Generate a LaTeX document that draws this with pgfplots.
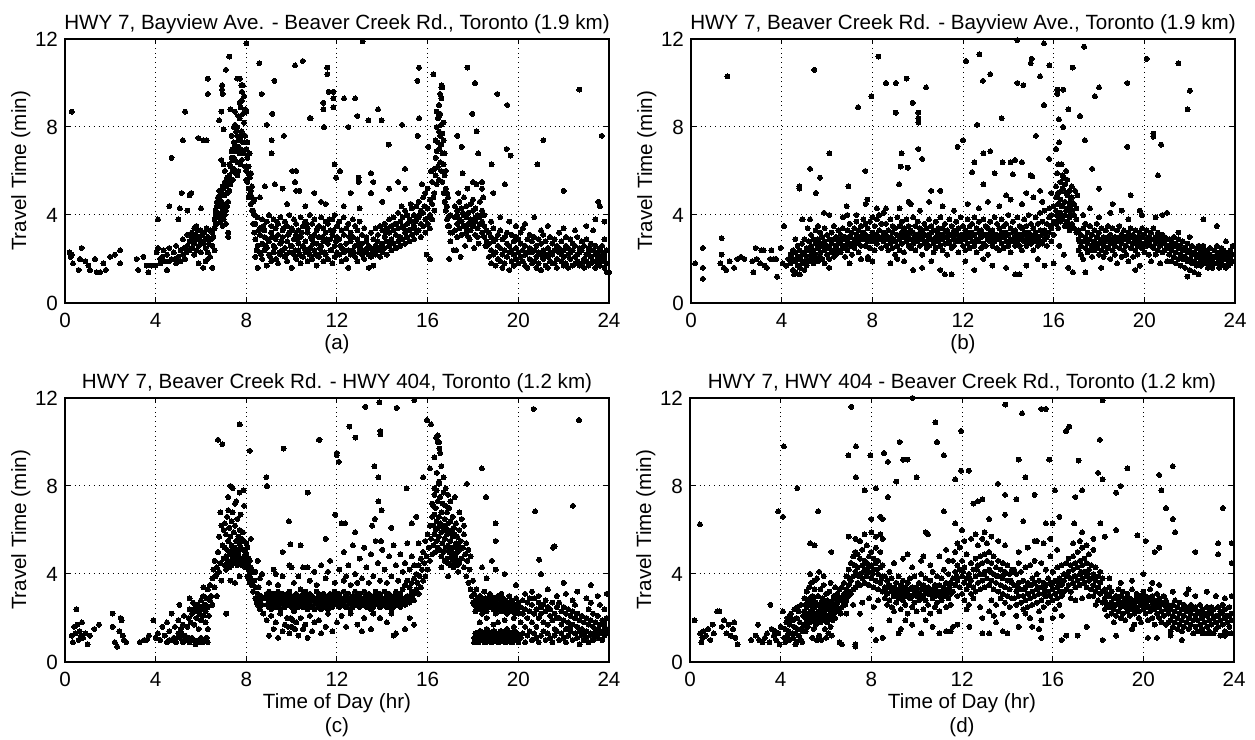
\documentclass[border=0pt]{standalone}
\usepackage{fontspec}
\setmainfont{Liberation Sans}
\usepackage{pgfplots}
\usepackage{pgfplotstable}
\pgfplotsset{compat=1.18}

% ---------- (a) HWY 7, Bayview Ave. - Beaver Creek Rd.
\pgfplotstableread[row sep=\\]{t a b c\\
5.6 3.0 2.5 3.2\\ 5.7 2.7 2.2 3.4\\ 5.8 2.9 2.4 3.5\\ 5.9 2.6 1.8 3.0\\ 6.0 2.8 3.3 2.3\\ 6.1 2.7 1.6 3.2\\
6.2 2.5 2.9 1.9\\ 6.3 2.3 3.0 2.0\\ 6.4 3.3 2.1 2.9\\ 6.5 3.2 2.6 1.6\\ 6.6 3.4 2.4 3.8\\ 6.65 4.2 3.6 4.0\\
6.7 4.6 3.6 4.4\\ 6.75 4.0 4.8 3.9\\ 6.8 4.8 3.9 5.1\\ 6.85 4.4 3.7 4.9\\ 6.9 5.0 4.1 4.6\\ 6.95 3.5 5.3 4.3\\
7.0 5.2 4.5 3.8\\ 7.05 4.9 4.0 5.5\\ 7.1 5.3 4.2 3.6\\ 7.15 5.0 4.4 5.7\\ 7.2 4.6 5.5 3.2\\ 7.25 5.8 5.1 6.3\\
7.3 6.2 5.4 8.8\\ 7.35 6.6 5.6 7.6\\ 7.4 7.0 6.0 6.5\\ 7.45 7.3 6.1 8.0\\ 7.5 6.5 8.1 7.2\\ 7.55 6.9 7.8 5.9\\
7.6 7.6 8.0 6.4\\ 7.65 7.1 6.0 8.5\\ 7.7 8.4 6.8 7.5\\ 7.75 8.9 7.0 6.3\\ 7.8 9.2 7.8 6.5\\ 7.85 8.6 7.3 6.9\\
7.9 8.2 6.8 9.4\\ 7.95 7.6 6.2 8.8\\ 8.0 7.0 6.0 8.7\\ 8.05 6.6 5.5 7.3\\ 8.1 5.2 6.2 4.8\\ 8.15 4.9 5.7 6.8\\
8.2 5.1 4.5 5.9\\ 8.25 4.8 5.3 4.2\\ 8.3 4.6 4.2 3.6\\ 8.35 4.0 4.7 3.2\\
8.4 2.1 2.9 3.6\\ 8.5 1.6 2.6 3.9\\ 8.6 2.3 3.1 3.4\\ 8.7 2.0 2.7 3.8\\ 8.8 2.4 3.0 3.3\\ 8.9 1.7 2.5 3.7\\
9.0 2.2 2.8 4.0\\ 9.1 1.9 3.2 3.5\\ 9.2 2.3 2.6 3.8\\ 9.3 2.0 2.9 3.4\\ 9.4 1.8 3.1 3.6\\ 9.5 2.2 2.7 3.9\\
9.6 2.4 3.0 3.3\\ 9.7 2.1 2.5 3.7\\ 9.8 1.9 2.8 3.5\\ 9.9 2.3 3.2 4.0\\ 10.0 1.6 2.6 3.4\\ 10.1 2.2 2.9 3.8\\
10.2 2.0 3.1 3.6\\ 10.3 2.4 2.7 3.3\\ 10.4 1.8 3.0 3.9\\ 10.5 2.1 2.6 3.5\\ 10.6 2.3 2.8 3.7\\ 10.7 1.9 3.2 3.4\\
10.8 2.2 2.5 4.0\\ 10.9 2.0 2.9 3.6\\ 11.0 2.4 3.1 3.8\\ 11.1 1.7 2.7 3.3\\ 11.2 2.1 3.0 3.5\\ 11.3 2.3 2.6 3.9\\
11.4 1.9 2.8 3.4\\ 11.5 2.2 3.2 3.7\\ 11.6 2.0 2.7 3.6\\ 11.7 2.4 2.9 3.3\\ 11.8 1.8 3.1 3.8\\ 11.9 2.1 2.6 4.0\\
12.0 2.3 3.0 3.5\\ 12.1 2.2 2.9 3.7\\ 12.2 1.9 2.5 3.3\\ 12.3 2.3 3.1 3.9\\ 12.4 2.0 2.7 3.4\\ 12.5 1.6 2.4 3.6\\
12.6 2.2 2.8 3.2\\ 12.7 2.4 3.0 3.8\\ 12.8 2.1 2.6 3.5\\ 12.9 1.9 2.9 3.3\\ 13.0 2.3 2.5 3.7\\ 13.1 2.2 2.7 3.1\\
13.2 2.0 2.4 3.4\\ 13.3 2.3 2.8 3.0\\ 13.4 1.6 2.2 2.6\\ 13.5 2.1 2.5 3.2\\ 13.6 1.7 2.3 2.9\\ 13.7 2.2 2.6 3.4\\
13.8 2.4 2.8 3.1\\ 13.9 2.1 2.5 3.5\\ 14.0 2.3 2.7 3.3\\ 14.1 2.5 3.0 3.6\\ 14.2 2.2 2.8 3.4\\ 14.3 2.6 3.2 3.8\\
14.4 2.4 2.9 3.5\\ 14.5 2.7 3.3 3.9\\ 14.6 2.5 3.1 3.6\\ 14.7 2.8 3.4 4.1\\ 14.8 2.6 3.0 3.7\\ 14.9 2.9 3.5 3.9\\
15.0 2.7 3.2 4.2\\ 15.1 3.0 3.6 4.0\\ 15.2 2.8 3.3 3.8\\ 15.3 3.1 3.7 4.3\\ 15.4 2.9 3.5 4.0\\ 15.5 3.2 3.8 4.4\\
15.6 3.3 3.9 4.6\\ 15.7 3.0 3.6 4.2\\ 15.8 3.5 4.1 4.8\\ 15.9 3.2 3.8 5.0\\ 16.0 3.6 4.3 5.2\\ 16.1 3.4 4.0 4.7\\
16.2 3.8 4.5 5.5\\ 16.3 4.2 5.0 6.1\\ 16.35 5.8 6.6 7.4\\ 16.4 5.4 6.9 8.0\\ 16.45 6.2 7.3 8.4\\ 16.5 5.6 7.0 7.8\\
16.55 6.4 7.6 8.6\\ 16.6 6.0 7.2 8.1\\ 16.65 5.5 6.8 7.7\\ 16.7 5.0 6.3 7.4\\ 16.75 4.6 5.8 6.8\\ 16.8 4.2 5.2 6.0\\
16.85 4.4 5.0 3.8\\ 16.9 3.9 4.8 3.5\\ 17.0 2.8 4.0 3.2\\
17.2 3.3 3.9 4.4\\ 17.3 3.6 4.2 3.0\\ 17.4 3.4 3.8 4.6\\ 17.5 3.1 3.7 4.3\\ 17.6 3.5 4.0 4.8\\ 17.7 3.2 3.9 4.4\\
17.8 3.6 4.1 3.0\\ 17.9 3.3 3.8 4.5\\ 18.0 3.5 4.2 4.7\\ 18.1 3.1 3.7 4.3\\ 18.2 3.4 4.0 3.0\\ 18.3 3.6 3.9 4.6\\
18.4 3.2 3.7 4.2\\ 18.5 3.0 3.5 4.0\\ 18.6 2.8 3.3 2.6\\
18.7 2.1 2.7 3.2\\ 18.8 1.8 2.4 3.0\\ 18.9 2.2 2.8 3.4\\ 19.0 1.7 2.3 2.9\\ 19.1 2.0 2.6 3.1\\ 19.2 1.9 2.5 3.3\\
19.3 2.2 2.9 1.6\\ 19.4 1.8 2.4 3.0\\ 19.5 2.1 2.7 3.2\\ 19.6 2.3 2.6 1.5\\ 19.7 1.9 2.4 3.1\\ 19.8 2.2 2.8 1.7\\
19.9 2.0 2.5 3.0\\ 20.0 1.8 2.3 2.9\\ 20.1 2.1 2.7 3.2\\ 20.2 1.9 2.4 3.4\\ 20.3 2.2 2.6 1.7\\ 20.4 1.6 2.3 2.9\\
20.5 2.0 2.5 3.1\\ 20.6 2.3 2.8 1.8\\ 20.7 1.9 2.4 3.0\\ 20.8 2.1 2.6 1.6\\ 20.9 1.8 2.3 2.9\\ 21.0 2.2 2.7 1.5\\
21.1 2.0 2.4 3.1\\ 21.2 1.7 2.2 2.8\\ 21.3 2.1 2.5 1.6\\ 21.4 1.9 2.3 3.0\\ 21.5 2.2 2.7 1.8\\ 21.6 1.8 2.4 2.9\\
21.7 2.0 2.6 1.6\\ 21.8 2.3 2.5 3.2\\ 21.9 1.9 2.2 2.8\\ 22.0 2.1 2.4 1.7\\ 22.1 1.8 2.6 3.0\\ 22.2 2.2 2.5 1.6\\
22.3 2.0 2.3 2.9\\ 22.4 1.7 2.4 2.7\\ 22.5 2.1 2.6 1.8\\ 22.6 1.9 2.2 3.0\\ 22.7 2.3 2.5 1.7\\ 22.8 1.8 2.4 2.8\\
22.9 2.0 2.6 1.6\\ 23.0 2.2 1.9 2.9\\ 23.1 1.7 2.3 2.5\\ 23.2 2.1 2.7 1.8\\ 23.3 1.9 2.4 3.3\\ 23.4 2.2 1.6 2.6\\
23.5 2.0 2.3 1.8\\ 23.6 1.7 2.5 2.1\\ 23.7 2.3 1.9 2.6\\ 23.8 2.0 1.6 2.2\\ 23.9 1.8 2.4 1.4\\
}\tabAband
\pgfplotstableread[row sep=\\]{x y\\
0.2 2.3\\ 0.25 2.1\\ 0.3 2.2\\ 0.35 1.8\\ 0.6 1.5\\ 0.66 2.0\\ 0.73 2.5\\ 0.9 1.9\\ 1.03 1.7\\ 1.1 1.5\\
1.32 2.0\\ 1.4 1.4\\ 1.55 1.4\\ 1.69 1.8\\ 1.8 1.5\\ 1.99 2.1\\ 2.2 2.2\\ 2.43 2.4\\ 2.43 1.8\\ 3.16 2.0\\
3.23 1.5\\ 3.46 2.1\\ 3.6 1.7\\ 3.68 1.4\\ 3.82 1.7\\ 4.04 2.3\\ 4.1 2.5\\ 0.3 8.7\\
4.1 3.8\\ 4.2 2.0\\ 4.2 1.8\\ 4.3 2.1\\ 4.4 1.9\\ 4.5 2.2\\ 4.5 1.5\\ 4.6 1.9\\ 4.6 2.5\\ 4.6 4.4\\
4.7 2.0\\ 4.7 6.6\\ 4.8 2.3\\ 4.9 2.6\\ 4.9 1.8\\ 5.0 2.1\\ 5.0 3.8\\ 5.1 2.4\\ 5.1 1.9\\ 5.2 2.2\\
5.2 2.9\\ 5.2 7.4\\ 5.3 8.7\\ 5.3 2.0\\ 5.4 2.6\\ 5.4 3.1\\ 5.4 4.2\\ 5.5 2.4\\ 5.5 4.9\\ 5.5 2.8\\
5.15 5.0\\ 5.07 4.3\\ 5.57 5.0\\ 4.0 1.7\\ 4.35 2.4\\ 4.85 2.0\\ 5.25 2.5\\ 5.35 2.3\\
5.65 2.8\\ 5.75 3.1\\ 5.85 3.3\\ 5.95 3.0\\ 6.05 3.1\\ 6.15 3.2\\ 6.25 3.4\\ 6.35 2.7\\ 6.45 2.9\\ 6.55 3.0\\
6.0 4.3\\ 6.2 1.9\\ 6.1 7.4\\ 6.3 9.5\\ 6.3 10.2\\ 6.25 7.4\\ 5.88 7.5\\ 6.9 4.9\\ 6.9 6.5\\ 6.8 8.3\\
7.0 7.9\\ 7.1 10.6\\ 6.93 9.9\\ 6.93 9.7\\ 6.95 9.5\\ 7.25 11.2\\ 6.9 8.7\\ 7.05 6.0\\ 7.0 6.3\\ 7.2 3.0\\
7.5 8.7\\ 7.6 10.2\\ 7.72 10.2\\ 7.78 9.9\\ 7.8 9.6\\ 8.0 11.8\\ 7.7 9.1\\ 7.85 9.9\\ 7.55 7.0\\ 7.45 6.6\\
7.65 7.4\\ 7.35 6.9\\ 7.75 7.6\\ 7.9 7.3\\ 8.0 5.6\\ 7.4 5.6\\ 7.6 5.8\\ 8.1 5.9\\ 8.2 4.9\\
8.45 2.4\\ 8.55 3.3\\ 8.65 2.2\\ 8.75 3.5\\ 8.85 2.6\\ 8.95 2.9\\ 9.05 2.1\\ 9.15 3.0\\ 9.25 2.5\\ 9.35 3.7\\
9.45 2.3\\ 9.55 2.8\\ 9.65 3.4\\ 9.75 2.2\\ 9.85 3.1\\ 9.95 2.6\\ 10.05 3.3\\ 10.15 2.4\\ 10.25 2.9\\ 10.35 2.2\\
10.45 3.2\\ 10.55 2.5\\ 10.65 3.6\\ 10.75 2.3\\ 10.85 3.0\\ 10.95 2.7\\ 11.05 2.2\\ 11.15 3.4\\ 11.25 2.5\\ 11.35 3.0\\
11.45 2.3\\ 11.55 2.9\\ 11.65 3.8\\ 11.75 2.4\\ 11.85 3.3\\ 11.95 2.8\\ 12.15 2.6\\ 12.35 2.4\\ 12.55 3.0\\ 12.75 2.3\\
12.95 2.7\\ 13.15 2.3\\ 13.35 2.5\\ 13.55 2.3\\ 13.75 2.4\\ 13.95 2.6\\ 14.15 3.2\\ 14.35 2.7\\ 14.55 3.6\\ 14.75 3.0\\
14.95 3.4\\ 15.15 3.3\\ 15.35 3.4\\ 15.45 3.7\\ 15.25 4.5\\ 14.85 4.4\\
15.65 4.0\\ 15.85 4.4\\ 16.05 3.9\\ 16.25 4.8\\ 15.75 5.4\\ 16.15 6.0\\ 15.95 2.2\\ 16.1 2.0\\ 16.5 9.0\\ 16.55 9.5\\
16.6 9.3\\ 16.65 9.8\\ 16.7 8.2\\ 16.6 9.8\\ 16.62 9.9\\ 16.95 2.0\\ 17.15 2.4\\ 17.1 3.2\\ 16.95 3.5\\ 16.4 8.7\\ 16.5 8.5\\
17.25 2.4\\ 17.45 2.1\\ 17.65 2.6\\ 17.85 2.9\\ 18.05 2.5\\ 18.25 2.7\\ 17.35 5.0\\ 17.75 5.2\\ 18.15 5.4\\ 17.55 4.1\\
17.95 3.6\\ 18.35 4.0\\ 18.45 4.8\\ 18.55 2.6\\ 17.3 4.0\\ 17.7 3.4\\ 18.1 3.9\\
19.6 3.7\\ 19.9 3.5\\ 20.7 3.9\\ 21.3 3.5\\ 22.0 3.4\\ 23.4 3.8\\ 23.8 2.9\\ 18.8 3.7\\ 19.2 3.9\\ 20.3 3.6\\
21.0 3.3\\ 22.5 3.3\\ 23.0 3.5\\
8.57 10.9\\ 9.24 10.1\\ 8.68 9.5\\ 9.15 8.6\\ 8.9 8.1\\ 10.15 10.8\\ 10.49 11.0\\ 10.8 8.4\\ 9.66 7.6\\ 9.12 7.4\\
9.12 6.8\\ 10.03 6.0\\ 10.2 6.0\\ 8.6 4.8\\ 8.82 5.3\\ 9.26 5.4\\ 9.6 5.2\\ 10.15 5.5\\ 10.2 5.1\\ 10.34 5.1\\
13.13 11.9\\ 11.57 10.7\\ 11.57 10.4\\ 11.63 9.6\\ 11.84 9.6\\ 11.84 9.3\\ 11.84 8.9\\ 11.4 9.1\\ 11.4 8.8\\ 11.43 8.0\\
12.31 9.3\\ 12.8 9.3\\ 12.9 8.5\\ 12.5 8.0\\ 13.38 8.3\\ 13.97 8.3\\ 13.81 8.8\\ 10.84 8.4\\ 14.87 8.1\\ 14.28 7.2\\
15.62 10.7\\ 15.55 10.1\\ 15.62 8.4\\ 15.56 7.6\\ 16.25 10.4\\ 16.03 7.1\\ 17.75 10.7\\ 18.09 10.0\\ 17.97 8.6\\ 18.16 7.8\\
17.31 7.6\\ 17.5 7.1\\ 18.23 6.8\\ 19.07 9.5\\ 19.51 9.0\\ 19.48 7.0\\ 19.66 6.7\\ 18.82 6.3\\ 18.9 5.0\\ 19.41 5.4\\
21.1 7.4\\ 20.84 6.3\\ 22.0 5.1\\ 22.69 9.7\\ 23.68 7.6\\ 23.53 4.6\\ 15.0 6.1\\ 13.5 5.9\\ 12.95 5.5\\ 12.95 5.7\\
11.96 5.7\\ 12.13 6.0\\ 11.9 6.3\\ 11.0 5.0\\ 11.3 4.6\\ 12.6 5.0\\ 13.5 5.0\\ 13.6 5.5\\ 14.3 5.2\\ 14.7 5.5\\
15.0 5.2\\ 17.54 5.9\\ 18.0 5.5\\ 18.4 5.5\\ 18.4 5.2\\ 11.5 4.5\\ 12.3 4.4\\ 13.0 4.3\\ 14.0 4.6\\ 10.6 4.4\\
9.8 4.5\\ 23.6 4.4\\ 23.8 3.7\\ 24.0 1.4\\
}\tabAsc

% ---------- (b) HWY 7, Beaver Creek Rd. - Bayview Ave.
\pgfplotstableread[row sep=\\]{t a b c\\
4.5 1.5 2.0 2.4\\ 4.6 1.9 2.3 1.4\\ 4.7 2.1 1.7 2.6\\ 4.8 1.6 2.0 2.4\\ 4.9 2.2 1.8 2.7\\ 5.0 1.9 2.3 1.5\\
5.1 2.1 2.5 1.7\\ 5.2 2.4 1.9 2.8\\ 5.3 2.0 2.6 2.2\\ 5.4 1.8 2.4 2.9\\ 5.5 2.2 2.7 2.0\\ 5.6 2.5 1.9 2.9\\
5.7 2.3 2.7 2.1\\ 5.8 2.6 2.0 3.0\\ 5.9 2.4 2.8 1.8\\ 6.0 2.2 2.6 3.1\\ 6.1 2.5 2.0 2.9\\ 6.2 2.7 2.3 3.2\\
6.3 2.4 2.9 2.1\\ 6.4 2.6 3.0 2.2\\ 6.5 2.8 2.4 3.3\\ 6.6 2.7 3.1 2.3\\ 6.7 2.9 2.5 3.4\\ 6.8 2.6 3.0 2.1\\
6.9 2.8 3.3 2.4\\ 7.0 3.0 2.6 3.6\\ 7.1 2.7 3.2 2.2\\ 7.2 2.9 3.4 2.5\\ 7.3 3.1 2.7 3.7\\ 7.4 2.8 3.3 2.3\\
7.5 3.0 3.5 2.6\\ 7.6 2.9 3.2 3.8\\ 7.7 3.1 2.6 3.6\\ 7.8 2.8 3.4 2.1\\ 7.9 3.0 3.7 2.5\\ 8.0 3.2 2.8 3.9\\
8.1 2.9 3.5 2.4\\ 8.2 3.1 3.8 2.7\\ 8.3 3.3 2.9 4.0\\ 8.4 3.0 3.6 2.5\\ 8.5 3.2 2.8 4.1\\
8.6 2.6 3.1 3.6\\ 8.7 2.9 3.3 2.4\\ 8.8 3.0 2.7 3.8\\ 8.9 3.2 2.5 3.5\\ 9.0 2.8 3.4 2.2\\ 9.1 3.1 2.6 3.9\\
9.2 2.9 3.5 2.4\\ 9.3 3.2 2.7 3.7\\ 9.4 3.0 3.4 2.3\\ 9.5 2.8 3.2 3.8\\ 9.6 3.1 2.6 3.5\\ 9.7 2.9 3.3 2.5\\
9.8 3.2 2.7 3.9\\ 9.9 3.0 3.5 2.4\\ 10.0 2.8 3.1 3.7\\ 10.1 3.2 2.6 3.4\\ 10.2 2.9 3.3 2.2\\ 10.3 3.1 2.7 3.6\\
10.4 2.8 3.4 2.5\\ 10.5 3.0 2.6 3.8\\ 10.6 3.2 2.9 3.5\\ 10.7 2.7 3.3 2.3\\ 10.8 3.0 2.5 3.7\\ 10.9 2.8 3.2 3.4\\
11.0 3.1 2.6 3.9\\ 11.1 2.9 3.4 2.4\\ 11.2 3.2 2.7 3.6\\ 11.3 3.0 3.3 2.2\\ 11.4 2.7 3.1 3.8\\ 11.5 3.1 2.5 3.5\\
11.6 2.9 3.3 2.6\\ 11.7 3.2 2.8 3.7\\ 11.8 3.0 3.4 2.3\\ 11.9 2.8 3.1 3.9\\ 12.0 3.1 2.6 3.5\\ 12.1 2.9 3.3 2.4\\
12.2 3.2 2.7 3.8\\ 12.3 3.0 3.5 2.5\\ 12.4 2.8 3.2 3.6\\ 12.5 3.1 2.6 3.9\\ 12.6 2.9 3.4 2.3\\ 12.7 3.2 2.8 3.7\\
12.8 3.0 3.3 2.5\\ 12.9 2.7 3.1 3.8\\ 13.0 3.1 2.6 3.5\\ 13.1 2.9 3.4 2.2\\ 13.2 3.2 2.8 3.7\\ 13.3 3.0 3.3 2.6\\
13.4 2.8 3.1 3.9\\ 13.5 3.1 2.5 3.6\\ 13.6 2.9 3.4 2.4\\ 13.7 3.2 2.7 3.8\\ 13.8 3.0 3.5 2.5\\ 13.9 2.8 3.2 3.6\\
14.0 3.1 2.6 4.0\\ 14.1 2.9 3.4 2.3\\ 14.2 3.2 2.8 3.7\\ 14.3 3.0 3.3 2.6\\ 14.4 2.8 3.1 3.9\\ 14.5 3.1 2.6 3.5\\
14.6 2.9 3.4 2.4\\ 14.7 3.2 2.8 3.8\\ 14.8 3.0 3.5 2.6\\ 14.9 2.8 3.2 4.0\\ 15.0 3.1 2.7 3.6\\ 15.1 2.9 3.4 2.4\\
15.2 3.2 2.8 3.9\\ 15.3 3.0 3.6 2.6\\ 15.4 2.8 3.3 4.1\\ 15.5 3.1 2.7 3.7\\ 15.6 3.3 2.9 4.2\\ 15.7 3.0 3.6 2.6\\
15.8 3.2 3.9 4.3\\ 15.9 3.4 2.8 4.0\\ 16.0 3.1 3.7 4.4\\
16.1 3.6 4.2 4.8\\ 16.2 3.9 4.5 5.0\\ 16.3 4.1 4.7 5.5\\ 16.4 3.8 4.4 5.2\\ 16.5 4.0 4.6 5.4\\ 16.6 3.7 4.3 4.9\\
16.7 3.9 4.5 5.1\\ 16.8 3.6 4.2 4.8\\ 16.9 3.4 4.0 4.5\\ 17.0 3.2 3.8 4.3\\ 16.15 4.0 4.9 3.7\\ 16.35 4.4 5.1 3.9\\
16.55 4.2 5.0 3.6\\ 16.75 4.3 4.7 3.5\\
17.1 2.9 2.4 3.3\\ 17.2 2.6 3.1 2.2\\ 17.3 2.8 3.4 2.0\\ 17.4 3.0 2.5 3.6\\ 17.5 2.7 3.2 2.3\\ 17.6 2.9 2.4 3.5\\
17.7 2.6 3.1 2.1\\ 17.8 2.8 3.3 2.4\\ 17.9 3.0 2.5 3.6\\ 18.0 2.7 3.2 2.2\\ 18.1 2.9 2.4 3.4\\ 18.2 2.6 3.0 2.1\\
18.3 2.8 3.3 2.3\\ 18.4 3.0 2.5 3.5\\ 18.5 2.7 3.1 2.0\\ 18.6 2.9 2.4 3.4\\ 18.7 2.6 3.0 2.2\\ 18.8 2.8 3.3 1.8\\
18.9 3.0 2.5 3.5\\ 19.0 2.7 3.1 2.1\\ 19.1 2.9 2.4 3.3\\ 19.2 2.6 3.0 2.2\\ 19.3 2.8 3.2 1.9\\ 19.4 3.0 2.5 3.4\\
19.5 2.7 3.1 2.1\\ 19.6 2.9 2.4 3.3\\ 19.7 2.6 3.0 2.2\\ 19.8 2.8 3.2 1.7\\ 19.9 3.0 2.5 3.4\\ 20.0 2.7 3.1 2.3\\
20.1 2.9 2.6 3.3\\ 20.2 2.8 3.0 2.2\\ 20.3 2.6 3.2 1.9\\ 20.4 2.9 2.5 3.4\\ 20.5 2.7 3.0 2.2\\ 20.6 2.8 2.4 3.2\\
20.7 2.6 3.0 1.8\\ 20.8 2.8 2.3 3.1\\ 20.9 2.7 2.4 3.0\\ 21.0 2.5 2.9 1.9\\
21.1 2.6 2.2 2.9\\ 21.2 2.4 2.8 1.9\\ 21.3 2.6 2.1 3.0\\ 21.4 2.3 2.7 1.8\\ 21.5 2.5 2.0 2.9\\ 21.6 2.2 2.6 1.7\\
21.7 2.4 2.0 2.8\\ 21.8 2.1 2.5 1.6\\ 21.9 2.3 1.9 2.7\\ 22.0 2.0 2.4 1.5\\ 22.1 2.2 1.8 2.6\\ 22.2 1.9 2.3 1.4\\
22.3 2.1 1.7 2.5\\ 22.4 1.8 2.2 2.6\\ 22.5 2.0 1.7 2.4\\ 22.6 2.2 1.9 2.6\\ 22.7 1.8 2.1 2.4\\ 22.8 2.0 1.6 2.3\\
22.9 2.2 1.8 2.5\\ 23.0 1.9 2.1 1.6\\ 23.1 2.1 2.4 1.8\\ 23.2 1.8 2.2 2.6\\ 23.3 2.0 1.6 2.3\\ 23.4 2.2 1.8 2.5\\
23.5 1.7 2.0 2.4\\ 23.6 2.1 1.6 2.3\\ 23.7 1.9 2.2 1.7\\ 23.8 2.1 2.4 1.8\\ 23.9 1.9 2.2 2.6\\
}\tabBband
\pgfplotstableread[row sep=\\]{x y\\
0.18 1.8\\ 0.52 2.5\\ 0.52 1.6\\ 0.52 1.1\\ 1.35 2.95\\ 1.35 2.2\\ 1.3 1.8\\ 1.45 1.6\\ 1.55 1.5\\ 1.7 1.9\\
1.9 1.6\\ 2.05 2.0\\ 2.2 2.1\\ 2.35 2.0\\ 2.7 1.9\\ 2.75 1.4\\ 2.85 2.5\\ 2.9 2.0\\ 3.05 1.8\\ 3.1 2.4\\
3.2 2.4\\ 3.25 1.7\\ 3.35 1.6\\ 3.5 2.0\\ 3.55 2.4\\ 3.65 2.0\\ 3.75 2.0\\ 3.8 1.2\\ 3.95 2.5\\ 4.05 1.8\\
4.1 3.5\\ 4.2 1.7\\ 4.3 2.0\\ 4.4 1.8\\ 4.4 2.2\\ 4.8 1.3\\ 5.0 2.9\\ 5.3 3.1\\ 5.5 3.3\\ 5.7 3.2\\
5.9 3.4\\ 6.1 1.6\\ 6.3 3.5\\ 5.25 3.8\\ 4.9 3.8\\ 5.6 3.5\\ 6.1 4.0\\ 4.6 2.9\\ 5.15 3.4\\ 4.55 1.3\\
7.0 1.8\\ 7.5 2.0\\ 7.8 2.0\\ 8.0 1.9\\ 6.9 4.0\\ 7.3 4.0\\ 7.7 4.5\\ 8.2 4.3\\ 8.6 4.3\\ 6.7 3.9\\
6.65 2.9\\ 6.95 3.0\\ 7.25 2.9\\ 7.55 3.1\\ 7.85 3.0\\ 8.15 3.1\\ 8.45 3.0\\
8.65 3.0\\ 8.95 2.9\\ 9.25 3.1\\ 9.55 3.0\\ 9.85 2.8\\ 10.15 3.0\\ 10.45 3.1\\ 10.75 2.9\\ 11.05 3.0\\ 11.35 2.8\\
11.65 3.1\\ 11.95 2.9\\ 12.25 3.0\\ 12.55 2.8\\ 12.85 3.1\\ 13.15 3.0\\ 13.45 2.9\\ 13.75 3.1\\ 14.05 2.8\\ 14.35 3.0\\
14.65 3.1\\ 14.95 2.9\\ 15.25 3.0\\ 15.55 3.2\\ 15.85 3.5\\
8.8 1.8\\ 9.1 2.0\\ 9.4 1.9\\ 9.8 1.5\\ 10.2 1.6\\ 10.6 1.9\\ 11.0 1.5\\ 11.2 1.3\\ 11.5 1.3\\ 12.1 1.9\\
12.5 1.5\\ 12.9 2.0\\ 13.3 1.7\\ 13.9 1.6\\ 14.3 1.3\\ 14.5 1.3\\ 14.8 1.7\\ 15.3 2.0\\ 15.6 1.7\\ 16.0 1.8\\
9.2 4.3\\ 9.7 4.5\\ 10.1 4.2\\ 10.5 4.6\\ 11.1 4.4\\ 11.6 4.2\\ 12.2 4.5\\ 12.7 4.3\\ 13.1 4.6\\ 13.6 4.4\\
14.1 4.7\\ 14.6 4.5\\ 15.1 4.8\\ 15.5 4.6\\ 13.9 4.9\\ 14.8 5.0\\ 15.4 5.1\\ 15.9 5.0\\
16.1 5.3\\ 16.2 3.4\\ 16.3 3.7\\ 16.4 5.8\\ 16.5 3.5\\ 16.6 5.6\\ 16.7 3.3\\ 16.8 5.3\\ 16.25 2.6\\ 16.45 2.2\\
16.65 1.6\\ 16.35 6.3\\ 16.55 6.0\\ 16.15 5.9\\ 16.75 4.0\\ 16.95 5.1\\ 17.05 4.9\\ 16.85 1.4\\ 16.45 5.7\\ 16.2 6.3\\
17.15 2.8\\ 17.45 2.9\\ 17.75 2.7\\ 18.05 2.8\\ 18.35 2.9\\ 18.65 2.7\\ 18.95 2.8\\ 19.25 2.9\\ 19.55 2.8\\ 19.85 2.7\\
20.15 2.8\\ 20.45 2.9\\ 20.75 2.7\\ 17.3 4.0\\ 17.6 4.3\\ 18.0 3.9\\ 18.5 4.1\\ 19.0 4.2\\ 19.3 3.8\\ 19.9 4.0\\
20.5 3.9\\ 20.8 4.0\\ 17.4 1.4\\ 18.1 1.6\\ 19.6 1.5\\ 21.5 3.2\\ 22.0 3.0\\ 23.2 3.5\\ 23.6 2.8\\ 22.4 1.3\\ 21.9 1.2\\
1.6 10.3\\ 5.44 10.6\\ 8.27 11.2\\ 8.6 10.0\\ 9.04 10.0\\ 9.51 10.2\\ 10.37 9.8\\ 9.78 9.1\\ 10.03 8.65\\ 10.03 8.4\\
10.03 8.2\\ 7.96 9.4\\ 9.03 8.65\\ 7.37 8.9\\ 9.29 6.8\\ 9.25 6.2\\ 9.56 6.15\\ 10.03 7.0\\ 10.2 6.55\\ 6.1 6.8\\
5.25 6.1\\ 5.69 5.7\\ 5.51 5.0\\ 4.78 5.3\\ 4.78 5.2\\ 6.94 5.3\\ 7.69 6.0\\ 7.78 4.7\\ 9.18 5.4\\ 9.6 4.6\\
10.6 5.1\\ 5.87 4.1\\ 6.87 4.4\\ 4.93 3.8\\
14.4 11.95\\ 15.57 11.8\\ 17.34 11.65\\ 12.13 11.0\\ 12.72 11.3\\ 15.03 11.1\\ 14.99 10.9\\ 15.81 10.8\\ 16.84 10.7\\
20.1 11.1\\ 21.5 10.9\\ 13.2 10.4\\ 12.88 10.1\\ 14.4 10.0\\ 14.66 9.9\\ 15.4 10.3\\ 15.57 9.0\\ 16.16 9.7\\ 16.42 9.7\\
16.16 9.5\\ 18.0 9.8\\ 17.82 9.4\\ 19.25 10.0\\ 22.01 9.65\\ 21.91 8.8\\ 16.65 8.8\\ 17.16 8.5\\ 16.23 8.35\\ 16.42 8.0\\
13.71 8.4\\ 12.63 8.1\\ 15.22 7.6\\ 20.4 7.7\\ 20.4 7.56\\ 20.74 7.2\\ 19.25 7.1\\ 17.38 7.4\\ 16.24 7.3\\ 16.1 7.0\\
11.76 7.1\\ 12.0 7.4\\ 12.9 6.8\\ 13.2 6.9\\ 13.75 6.4\\ 14.1 6.4\\ 14.3 6.5\\ 14.6 6.4\\ 15.8 6.55\\ 12.5 6.4\\
14.98 5.8\\ 15.05 5.75\\ 14.2 5.85\\ 13.4 5.9\\ 12.4 5.95\\ 12.9 5.4\\ 17.7 6.1\\ 20.6 5.8\\ 19.4 4.9\\ 18.0 5.2\\
11.0 5.1\\ 18.6 4.5\\ 19.8 4.2\\ 21.0 4.1\\ 22.6 3.8\\
}\tabBsc

% ---------- (c) HWY 7, Beaver Creek Rd. - HWY 404
\pgfplotstableread[row sep=\\]{t a b c\\
7.05 4.4 5.2 6.3\\ 7.1 4.8 5.8 4.2\\ 7.15 5.1 6.6 4.5\\ 7.2 4.6 5.5 6.9\\ 7.25 4.3 5.0 6.1\\ 7.3 4.9 5.7 4.5\\
7.35 5.3 6.4 4.4\\ 7.4 4.7 5.1 6.8\\ 7.45 4.5 5.9 4.9\\ 7.5 5.2 6.2 4.6\\ 7.55 4.8 5.5 7.3\\ 7.6 4.4 5.0 6.5\\
7.65 4.9 5.7 4.6\\ 7.7 5.4 6.0 4.5\\ 7.75 4.6 5.2 6.7\\ 7.8 4.7 5.6 4.4\\ 7.85 4.5 5.1 5.9\\ 7.9 4.8 4.4 5.5\\
7.95 4.6 5.0 4.3\\ 8.0 4.4 4.9 5.4\\ 8.05 4.5 3.9 5.2\\ 8.1 4.2 4.7 3.8\\ 8.15 4.0 4.6 3.6\\ 8.2 3.8 4.3 5.6\\
8.9 2.6 2.9 3.1\\ 9.0 2.8 2.5 3.2\\ 9.1 2.7 3.0 2.4\\ 9.2 2.9 2.6 3.1\\ 9.3 2.7 3.0 2.5\\ 9.4 2.8 2.6 3.2\\
9.5 3.0 2.7 2.4\\ 9.6 2.8 3.1 2.6\\ 9.7 2.9 2.5 3.0\\ 9.8 2.7 3.1 2.6\\ 9.9 2.9 2.6 3.2\\ 10.0 2.8 3.0 2.5\\
10.1 2.7 2.9 2.4\\ 10.2 2.9 2.6 3.1\\ 10.3 2.8 3.0 2.5\\ 10.4 3.0 2.7 3.3\\ 10.5 2.8 2.5 3.1\\ 10.6 2.9 2.6 3.2\\
10.7 2.7 3.0 2.4\\ 10.8 2.9 2.6 3.1\\ 10.9 2.8 3.0 2.5\\ 11.0 2.7 2.9 2.4\\ 11.1 2.9 2.6 3.2\\ 11.2 2.8 3.1 2.5\\
11.3 2.7 2.9 2.4\\ 11.4 2.9 2.6 3.1\\ 11.5 2.8 3.0 2.5\\ 11.6 3.0 2.7 2.4\\ 11.7 2.8 2.6 3.1\\ 11.8 2.9 3.0 2.5\\
11.9 2.7 2.9 3.2\\ 12.0 2.9 2.6 3.0\\ 12.1 2.8 3.1 2.5\\ 12.2 2.7 2.9 2.6\\ 12.3 2.9 2.6 3.2\\ 12.4 2.8 3.0 2.5\\
12.5 2.7 2.9 3.1\\ 12.6 2.9 2.6 2.4\\ 12.7 2.8 3.0 2.5\\ 12.8 2.7 2.9 3.2\\ 12.9 2.9 2.6 3.0\\ 13.0 2.8 3.1 2.5\\
13.1 2.7 2.9 2.6\\ 13.2 2.9 2.6 3.2\\ 13.3 2.8 3.0 2.5\\ 13.4 2.7 2.9 3.1\\ 13.5 2.9 2.6 2.4\\ 13.6 2.8 3.0 2.5\\
13.7 2.7 2.9 3.2\\ 13.8 2.9 2.6 3.0\\ 13.9 2.8 3.1 2.5\\ 14.0 2.7 2.9 2.6\\ 14.1 2.9 2.6 3.2\\ 14.2 2.8 3.0 2.5\\
14.3 2.7 2.9 3.1\\ 14.4 2.9 2.6 2.4\\ 14.5 2.8 3.0 2.5\\ 14.6 2.7 2.9 3.2\\ 14.7 2.9 2.6 3.0\\ 14.8 2.8 3.1 2.5\\
14.9 2.7 2.9 3.3\\ 15.0 2.9 2.6 3.5\\ 15.1 2.8 3.0 3.7\\ 15.2 3.0 3.4 2.7\\ 15.3 2.9 3.6 3.2\\ 15.4 3.1 3.8 2.8\\
16.25 5.3 6.2 7.1\\ 16.3 5.8 6.7 7.6\\ 16.35 5.0 6.0 7.0\\ 16.4 5.5 6.4 7.8\\ 16.45 6.1 5.2 7.3\\ 16.5 5.7 6.6 8.2\\
16.55 5.1 6.3 7.5\\ 16.6 5.9 6.8 4.8\\ 16.65 5.4 6.2 7.2\\ 16.7 6.0 5.0 7.7\\ 16.75 5.6 6.5 4.6\\ 16.8 5.2 6.1 7.1\\
16.85 5.8 4.7 6.8\\ 16.9 5.3 6.3 4.5\\ 16.95 5.9 5.0 7.0\\ 17.0 5.5 6.4 4.4\\ 17.05 5.1 6.0 4.8\\ 17.1 5.7 4.6 6.6\\
17.15 5.2 4.3 6.1\\ 17.2 4.9 5.8 4.5\\ 17.25 5.4 4.7 6.3\\ 17.3 5.0 4.4 5.7\\ 17.35 4.6 5.3 4.1\\ 17.4 5.1 4.5 6.0\\
20.1 2.5 1.1 1.8\\ 20.2 2.8 1.3 2.2\\ 20.3 2.4 0.9 1.6\\ 20.4 2.7 1.2 2.0\\ 20.5 2.3 1.4 2.9\\ 20.6 2.6 1.0 1.8\\
20.7 2.9 1.3 2.2\\ 20.8 2.4 1.1 1.6\\ 20.9 2.7 0.9 2.0\\ 21.0 2.2 1.2 2.5\\ 21.1 2.6 1.4 1.8\\ 21.2 2.3 1.0 2.8\\
21.3 2.5 1.3 1.7\\ 21.4 2.1 1.1 2.4\\ 21.5 2.7 0.9 1.9\\ 21.6 2.2 1.2 1.5\\ 21.7 2.5 1.4 2.0\\ 21.8 2.0 1.0 2.7\\
21.9 2.3 1.3 1.7\\ 22.0 1.9 1.1 2.5\\ 22.1 2.2 0.9 1.5\\ 22.2 1.8 1.2 2.4\\ 22.3 2.1 1.4 1.6\\ 22.4 1.7 1.0 2.3\\
22.5 2.0 1.3 2.6\\ 22.6 1.6 1.1 2.2\\ 22.7 1.9 0.8 1.4\\ 22.8 1.5 1.2 2.1\\ 22.9 1.8 1.0 1.3\\ 23.0 1.4 1.1 2.0\\
23.1 1.7 0.9 2.4\\ 23.2 1.3 1.2 1.9\\ 23.3 1.6 1.0 2.2\\ 23.4 1.2 1.4 1.8\\ 23.5 1.5 1.1 2.1\\ 23.6 1.7 1.3 2.6\\
23.7 1.4 1.0 1.9\\ 23.8 1.8 1.2 1.6\\ 23.9 1.5 1.3 2.0\\
}\tabCband
\pgfplotstableread[row sep=\\]{t a b c d\\
18.1 2.8 2.3 1.0 1.3\\ 18.2 2.9 2.4 1.2 0.9\\ 18.3 2.6 3.0 1.4 1.1\\ 18.4 2.8 2.2 1.0 1.3\\ 18.5 2.5 3.2 1.2 0.9\\
18.6 2.7 2.3 1.5 1.1\\ 18.7 2.9 2.5 1.0 1.3\\ 18.8 2.6 3.0 1.2 0.9\\ 18.9 2.4 2.8 1.4 1.1\\ 19.0 2.7 2.2 1.0 1.3\\
19.1 2.5 3.0 1.2 0.9\\ 19.2 2.8 2.3 1.4 1.1\\ 19.3 2.6 2.9 1.0 1.3\\ 19.4 2.4 2.7 1.2 0.9\\ 19.5 2.7 2.2 1.5 1.1\\
19.6 2.5 3.0 1.0 1.3\\ 19.7 2.8 2.3 1.2 0.9\\ 19.8 2.6 2.0 1.4 1.1\\ 19.9 2.4 2.9 1.0 1.3\\ 20.0 2.7 2.2 1.2 0.9\\
18.05 2.6 3.1 1.1 0.9\\ 18.15 2.5 3.3 1.3 1.0\\ 18.25 2.7 2.5 0.9 1.2\\ 18.35 2.9 2.4 1.1 1.4\\ 18.45 2.6 2.8 1.3 1.0\\
18.55 2.4 2.9 0.9 1.2\\ 18.65 2.8 2.5 1.1 1.4\\ 18.75 2.6 3.1 1.3 1.0\\ 18.85 2.5 2.7 0.9 1.2\\ 18.95 2.9 2.4 1.1 1.4\\
19.05 2.6 2.8 1.3 1.0\\ 19.15 2.4 2.6 0.9 1.2\\ 19.25 2.7 3.1 1.1 1.4\\ 19.35 2.5 2.3 1.3 1.0\\ 19.45 2.8 2.6 0.9 1.2\\
19.55 2.6 2.4 1.1 1.4\\ 19.65 2.3 2.7 1.3 1.0\\ 19.75 2.7 2.5 0.9 1.2\\ 19.85 2.5 2.2 1.1 1.4\\ 19.95 2.3 2.6 1.3 1.0\\
}\tabCtwo
\pgfplotstableread[row sep=\\]{x y\\
0.3 1.2\\ 0.35 0.9\\ 0.4 1.6\\ 0.45 1.3\\ 0.5 2.4\\ 0.55 1.7\\ 0.6 1.0\\ 0.65 1.4\\ 0.7 1.2\\ 0.75 1.8\\
0.8 1.1\\ 0.9 1.3\\ 1.0 0.8\\ 1.1 1.2\\ 1.3 1.5\\ 1.5 1.7\\ 2.1 2.2\\ 2.1 1.6\\ 2.2 0.9\\ 2.3 0.7\\
2.4 1.4\\ 2.45 2.0\\ 2.5 1.9\\ 2.55 1.2\\ 2.6 1.0\\ 2.7 0.9\\ 3.3 0.9\\ 3.5 1.0\\ 3.6 1.0\\ 3.7 1.2\\
3.9 1.9\\ 4.0 1.1\\ 4.1 1.3\\ 4.2 1.0\\ 4.3 1.6\\ 4.4 1.2\\ 4.5 1.8\\ 4.5 0.9\\ 4.6 1.4\\ 4.7 2.2\\
4.7 1.0\\ 4.8 1.1\\ 4.85 1.6\\ 4.9 0.9\\ 5.0 1.3\\ 5.0 1.9\\ 5.05 2.6\\ 5.1 1.1\\ 5.1 1.5\\ 5.2 0.9\\
5.2 1.7\\ 5.25 2.1\\ 5.3 1.2\\ 5.3 1.0\\ 4.95 1.1\\ 4.6 1.0\\ 5.15 1.3\\
5.4 1.0\\ 5.5 0.9\\ 5.6 1.1\\ 5.7 1.0\\ 5.8 0.9\\ 5.9 1.0\\ 6.0 1.1\\ 6.1 0.9\\ 6.2 1.0\\ 6.3 0.9\\
5.45 1.1\\ 5.75 0.8\\ 6.05 0.9\\ 5.65 1.0\\ 5.95 0.9\\ 6.25 1.1\\
5.4 1.6\\ 5.45 2.0\\ 5.5 2.4\\ 5.55 1.8\\ 5.6 2.2\\ 5.65 2.7\\ 5.7 1.7\\ 5.75 2.3\\ 5.8 2.0\\ 5.85 2.6\\
5.9 1.5\\ 5.95 2.2\\ 6.0 2.8\\ 6.0 1.9\\ 6.05 2.4\\ 6.1 2.1\\ 6.1 3.0\\ 6.15 2.6\\ 6.2 1.8\\ 6.2 2.3\\
6.25 2.9\\ 6.3 2.5\\ 6.3 3.3\\ 6.35 2.1\\ 6.4 2.8\\ 6.4 3.5\\ 5.8 2.5\\ 5.7 2.4\\ 6.0 2.5\\ 5.9 2.3\\
6.2 2.6\\ 6.1 3.4\\ 5.5 2.9\\ 6.3 1.5\\
6.45 3.0\\ 6.5 3.8\\ 6.5 2.6\\ 6.55 4.2\\ 6.6 3.4\\ 6.6 4.6\\ 6.65 3.9\\ 6.7 4.3\\ 6.7 3.0\\ 6.75 5.0\\
6.8 4.1\\ 6.8 5.7\\ 6.85 4.5\\ 6.9 6.2\\ 6.9 3.7\\ 6.95 5.3\\ 7.0 4.7\\ 7.0 6.0\\ 6.85 6.8\\ 6.7 4.0\\
7.2 7.5\\ 7.4 7.9\\ 7.3 8.0\\ 7.5 7.2\\ 7.7 7.7\\ 7.9 7.1\\ 7.3 3.7\\ 7.7 3.9\\ 7.1 2.2\\ 7.5 3.6\\
8.25 3.5\\ 8.3 4.1\\ 8.3 3.2\\ 8.35 3.7\\ 8.4 2.9\\ 8.4 3.4\\ 8.45 2.7\\ 8.5 3.1\\ 8.5 2.6\\ 8.55 3.4\\
8.6 2.8\\ 8.6 2.4\\ 8.65 3.0\\ 8.7 2.6\\ 8.75 2.2\\ 8.8 2.9\\ 8.4 4.1\\ 8.6 3.8\\ 8.7 4.0\\ 8.5 4.6\\
9.0 3.6\\ 9.2 4.2\\ 9.4 3.5\\ 9.6 3.9\\ 9.9 4.4\\ 10.1 3.6\\ 10.3 3.9\\ 10.5 4.3\\ 10.8 3.7\\ 11.0 4.1\\
11.1 3.5\\ 11.3 4.4\\ 11.5 3.8\\ 11.7 4.6\\ 11.9 3.6\\ 12.1 4.2\\ 12.3 5.0\\ 12.3 3.7\\ 12.5 4.4\\ 12.6 3.5\\
12.7 5.3\\ 12.8 4.0\\ 12.9 3.6\\ 13.0 4.7\\ 13.1 3.8\\ 13.2 5.2\\ 13.3 4.3\\ 13.4 3.6\\ 13.5 4.9\\ 13.6 3.9\\
13.7 5.5\\ 13.8 4.5\\ 13.9 3.7\\ 14.0 5.1\\ 14.1 4.2\\ 14.2 3.6\\ 14.3 4.8\\ 14.4 3.9\\ 14.5 5.3\\ 14.6 4.4\\
14.7 3.7\\ 14.8 4.9\\ 14.9 4.1\\ 15.0 4.5\\ 15.1 5.4\\ 15.2 4.2\\ 15.3 4.8\\ 15.4 4.4\\ 9.3 4.0\\ 10.0 4.3\\
10.7 4.3\\ 11.6 4.1\\ 12.4 3.9\\
8.9 1.9\\ 9.0 1.2\\ 9.1 2.1\\ 9.2 1.5\\ 9.3 1.8\\ 9.4 1.1\\ 9.5 2.2\\ 9.6 1.4\\ 9.7 1.7\\ 9.8 2.0\\
9.9 1.3\\ 10.0 1.6\\ 10.1 2.3\\ 10.2 1.8\\ 10.3 1.2\\ 10.4 2.0\\ 10.5 1.5\\ 10.6 1.7\\ 10.7 1.1\\ 10.8 2.1\\
10.9 1.4\\ 11.0 1.8\\ 11.2 1.9\\ 11.3 1.3\\ 11.5 1.6\\ 11.6 2.2\\ 11.8 1.4\\ 12.0 1.8\\ 12.2 2.1\\ 12.4 1.6\\
12.6 2.2\\ 12.9 1.7\\ 13.1 1.4\\ 13.2 2.0\\ 13.5 1.5\\ 13.6 2.2\\ 13.9 2.0\\ 14.2 1.8\\ 14.4 2.2\\ 14.5 1.2\\
14.6 1.3\\ 15.0 1.5\\ 15.2 2.0\\ 15.4 1.7\\ 9.95 2.0\\ 10.15 1.5\\ 10.05 1.9\\ 9.85 1.6\\
15.5 3.3\\ 15.5 4.0\\ 15.55 3.6\\ 15.6 4.4\\ 15.6 3.1\\ 15.65 3.9\\ 15.7 4.7\\ 15.7 3.4\\ 15.75 4.2\\ 15.8 5.0\\
15.8 3.7\\ 15.85 4.5\\ 15.9 5.5\\ 15.9 3.9\\ 15.95 4.8\\ 16.0 5.8\\ 16.0 4.2\\ 16.05 5.2\\ 16.1 6.2\\ 16.1 4.6\\
16.15 5.6\\ 16.2 6.6\\ 16.2 4.9\\ 15.6 5.4\\ 15.3 6.3\\ 15.5 6.6\\
16.4 8.6\\ 16.6 8.9\\ 16.5 8.1\\ 16.7 8.4\\ 16.3 7.9\\ 16.9 7.6\\ 17.0 7.3\\ 17.2 7.5\\ 16.2 7.2\\ 16.8 7.9\\
16.6 4.3\\ 16.9 3.9\\ 16.45 10.3\\ 16.5 10.0\\ 16.55 9.5\\ 16.3 9.3\\ 16.1 8.8\\ 15.8 8.4\\
17.45 5.5\\ 17.5 4.7\\ 17.55 5.2\\ 17.6 4.3\\ 17.6 5.8\\ 17.65 4.9\\ 17.7 5.4\\ 17.7 3.9\\ 17.75 4.6\\ 17.8 5.1\\
17.8 3.6\\ 17.85 4.2\\ 17.9 3.3\\ 17.9 4.8\\ 17.95 3.0\\ 18.0 3.7\\ 18.0 2.7\\ 17.5 6.5\\ 17.6 6.2\\ 17.4 6.8\\
18.3 1.8\\ 18.9 1.7\\ 19.4 1.9\\ 19.8 1.6\\ 18.6 2.0\\ 19.1 1.8\\
20.3 3.1\\ 20.6 3.2\\ 20.9 3.0\\ 21.3 3.3\\ 21.7 3.0\\ 22.1 3.1\\ 22.6 3.2\\ 23.0 2.9\\ 23.5 3.0\\ 23.8 2.4\\
22.4 2.8\\ 23.2 2.7\\
7.71 10.8\\ 6.75 10.1\\ 6.94 9.9\\ 8.15 9.6\\ 8.88 8.4\\ 8.91 8.0\\ 9.64 9.7\\ 11.2 10.1\\ 10.71 7.7\\ 9.88 6.4\\
9.94 5.35\\ 7.88 7.8\\ 7.12 2.2\\ 13.25 11.6\\ 13.87 11.8\\ 14.63 11.55\\ 15.41 11.9\\ 15.97 11.0\\ 16.15 10.8\\ 12.55 10.7\\
12.81 10.2\\ 13.91 10.5\\ 13.91 10.35\\ 11.23 10.1\\ 11.99 9.5\\ 11.99 9.4\\ 12.08 9.1\\ 13.65 8.9\\ 13.83 8.4\\ 10.71 7.7\\
13.83 7.3\\ 13.97 6.9\\ 11.92 6.7\\ 12.36 6.3\\ 13.55 6.2\\ 13.67 6.5\\ 13.94 5.5\\ 16.37 10.2\\ 16.44 10.0\\ 16.52 9.7\\
18.39 8.8\\ 18.57 7.5\\ 19.0 6.3\\ 19.0 5.5\\ 18.83 4.6\\ 19.0 4.2\\ 20.67 11.5\\ 22.68 11.0\\ 20.74 6.85\\ 22.41 7.1\\
21.53 5.2\\ 21.6 5.25\\ 20.92 4.65\\ 21.0 4.0\\ 17.73 8.1\\ 15.07 7.9\\ 12.2 6.3\\ 18.4 4.3\\ 18.6 3.8\\ 19.4 4.0\\
19.9 3.5\\ 22.0 3.6\\ 23.2 3.5\\ 23.9 3.1\\ 12.8 5.9\\ 14.4 6.1\\ 11.5 5.6\\ 10.4 5.3\\ 9.6 5.0\\
}\tabCsc

% ---------- (d) HWY 7, HWY 404 - Beaver Creek Rd.
\pgfplotstableread[row sep=\\]{t a b c\\
5.05 2.3 1.7 2.9\\ 5.1 2.0 2.6 1.4\\ 5.15 2.5 1.9 3.2\\ 5.2 2.2 2.8 1.6\\ 5.25 2.6 2.0 3.4\\ 5.3 2.3 1.8 2.9\\
5.35 2.7 2.1 3.6\\ 5.4 2.4 1.9 3.0\\ 5.45 2.1 2.8 1.5\\ 5.5 2.5 2.0 3.3\\ 5.55 2.2 2.7 1.7\\ 5.6 2.6 2.1 3.8\\
5.65 2.3 1.9 3.0\\ 5.7 2.0 2.6 1.2\\ 5.75 2.4 1.8 3.3\\ 5.8 2.7 2.2 1.0\\ 5.85 2.3 1.9 2.9\\ 5.9 2.5 2.0 3.5\\
5.95 2.2 2.8 1.5\\ 6.0 2.6 2.0 3.1\\ 6.05 2.4 1.8 2.8\\ 6.1 2.1 2.6 1.3\\ 6.15 2.5 2.0 3.2\\ 6.2 2.3 2.7 1.6\\
6.25 2.6 2.1 1.2\\ 6.3 2.4 2.8 1.9\\ 6.35 2.2 2.6 3.0\\ 6.4 2.5 2.9 2.0\\ 6.5 2.7 2.3 3.1\\ 6.6 2.8 2.4 3.3\\
6.7 2.9 2.5 3.4\\ 6.8 3.1 2.7 3.6\\ 6.9 3.3 2.8 3.9\\ 7.0 3.5 3.0 4.2\\ 7.1 3.7 3.1 4.5\\ 7.2 3.9 3.3 4.8\\
7.3 4.1 3.4 5.0\\ 7.4 4.3 3.6 4.9\\ 7.5 4.0 3.5 4.7\\ 7.6 4.4 3.8 5.1\\ 7.7 4.2 3.6 4.6\\ 7.8 4.5 3.9 5.3\\
7.9 4.1 3.5 4.8\\ 8.0 4.4 3.8 5.0\\ 8.1 4.2 3.4 4.7\\ 8.2 4.5 3.7 5.2\\ 8.3 4.0 3.3 4.6\\ 8.4 4.3 3.6 5.0\\
8.5 3.9 3.2 4.4\\
8.6 3.4 2.9 3.9\\ 8.7 3.1 2.6 3.7\\ 8.8 3.5 2.8 4.1\\ 8.9 3.2 2.5 3.8\\ 9.0 3.4 3.0 2.3\\ 9.1 3.1 3.6 2.7\\
9.2 3.3 2.9 3.9\\ 9.3 3.0 3.5 2.4\\ 9.4 3.2 2.8 3.7\\ 9.5 3.4 3.0 2.6\\ 9.6 3.1 3.6 2.2\\ 9.7 3.3 2.9 3.8\\
9.8 3.0 3.4 2.5\\ 9.9 3.2 2.7 3.9\\ 10.0 3.4 3.0 2.3\\ 10.1 3.1 3.6 2.8\\ 10.2 3.3 2.9 4.0\\ 10.3 3.0 3.5 2.4\\
10.4 3.2 2.8 3.8\\ 10.5 3.4 3.1 2.6\\ 10.6 3.1 3.7 2.2\\ 10.7 3.3 2.9 4.1\\ 10.8 3.0 3.5 2.5\\ 10.9 3.2 2.7 3.9\\
11.0 3.5 3.0 2.3\\ 11.1 3.2 3.8 2.8\\ 11.2 3.4 3.0 4.2\\ 11.3 3.1 3.6 2.5\\ 11.4 3.3 2.9 4.0\\ 11.5 3.6 3.1 2.6\\
11.6 3.8 3.2 4.6\\ 11.7 4.1 3.5 5.0\\ 11.8 3.7 3.0 4.4\\ 11.9 4.2 3.4 5.2\\ 12.0 3.9 3.1 4.6\\ 12.1 4.3 3.6 2.8\\
12.2 3.8 3.3 4.9\\ 12.3 4.0 3.5 2.6\\ 12.4 3.7 3.1 4.5\\ 12.5 4.2 3.4 2.9\\ 12.6 3.9 3.2 4.7\\ 12.7 4.4 3.6 5.3\\
12.8 4.0 3.3 4.8\\ 12.9 4.5 3.7 5.6\\ 13.0 4.1 3.4 4.9\\ 13.1 4.6 3.8 5.4\\ 13.2 4.2 3.5 5.0\\ 13.3 4.5 3.7 2.8\\
13.4 4.0 3.3 4.8\\ 13.5 4.3 3.6 2.6\\ 13.6 3.9 3.2 4.6\\ 13.7 4.2 3.5 2.9\\ 13.8 3.8 3.1 4.5\\ 13.9 4.1 3.4 2.7\\
14.0 3.7 3.0 4.4\\ 14.1 4.0 3.3 2.5\\ 14.2 3.6 2.9 4.2\\
14.3 3.5 2.9 4.2\\ 14.4 3.2 2.6 4.0\\ 14.5 3.6 3.0 4.5\\ 14.6 3.3 2.7 4.1\\ 14.7 3.7 3.0 2.4\\ 14.8 3.4 2.8 4.3\\
14.9 3.1 3.6 2.5\\ 15.0 3.5 2.9 4.4\\ 15.1 3.2 3.8 2.6\\ 15.2 3.6 3.0 4.6\\ 15.3 3.3 2.7 4.0\\ 15.4 3.7 3.1 2.3\\
15.5 3.4 2.8 4.5\\ 15.6 3.1 3.6 2.5\\ 15.7 3.5 3.0 4.2\\ 15.8 3.2 3.8 2.7\\ 15.9 3.6 3.0 4.8\\ 16.0 3.3 2.8 4.1\\
16.1 3.7 3.1 2.4\\ 16.2 3.4 2.9 4.3\\ 16.3 3.8 3.2 2.6\\ 16.4 3.5 3.0 4.4\\ 16.5 3.7 3.2 4.0\\
16.6 3.9 3.3 4.5\\ 16.7 4.1 3.5 4.7\\ 16.8 3.8 3.2 4.4\\ 16.9 4.2 3.6 4.8\\ 17.0 3.9 3.4 4.5\\ 17.1 4.3 3.7 5.0\\
17.2 4.0 3.5 4.6\\ 17.3 4.4 3.8 5.2\\ 17.4 4.1 3.6 4.7\\ 17.5 3.9 3.4 4.5\\ 17.6 4.2 3.7 4.9\\ 17.7 3.8 3.3 4.4\\
17.8 4.0 3.5 3.0\\ 17.9 3.7 3.2 4.3\\ 18.0 3.9 3.4 2.8\\ 18.1 3.6 3.1 4.1\\ 18.2 3.8 3.2 2.7\\
18.3 2.9 2.4 3.3\\ 18.4 2.6 3.1 2.1\\ 18.5 3.0 2.5 3.4\\ 18.6 2.7 2.2 3.2\\ 18.7 2.9 2.4 1.8\\ 18.8 2.6 3.0 2.1\\
18.9 2.8 2.3 3.3\\ 19.0 2.5 3.0 2.0\\ 19.1 2.7 2.2 3.2\\ 19.2 2.5 2.9 1.9\\ 19.3 2.8 2.3 3.1\\ 19.4 2.6 2.9 2.1\\
19.5 2.4 2.8 3.3\\ 19.6 2.7 2.2 1.7\\ 19.7 2.5 2.9 3.1\\ 19.8 2.8 2.3 2.0\\ 19.9 2.6 3.0 1.8\\ 20.0 2.4 2.8 3.2\\
20.1 2.7 2.2 3.0\\ 20.2 2.5 2.9 1.9\\ 20.3 2.8 2.3 3.3\\ 20.4 2.6 3.0 2.0\\ 20.5 2.4 2.8 1.7\\ 20.6 2.7 2.2 3.1\\
20.7 2.5 2.9 2.0\\ 20.8 2.3 2.7 1.8\\ 20.9 2.6 2.1 3.0\\ 21.0 2.4 2.8 1.7\\
21.1 2.2 1.8 2.6\\ 21.2 2.4 1.9 1.4\\ 21.3 2.1 2.6 1.6\\ 21.4 2.3 1.8 2.8\\ 21.5 2.0 2.5 1.5\\ 21.6 2.2 1.7 2.7\\
21.7 2.4 1.9 1.4\\ 21.8 2.1 2.6 1.6\\ 21.9 2.3 1.8 2.5\\ 22.0 2.0 2.4 1.5\\ 22.1 2.2 1.7 2.6\\ 22.2 2.4 1.9 1.3\\
22.3 2.1 2.5 1.6\\ 22.4 1.9 2.3 1.4\\ 22.5 2.2 1.7 2.6\\ 22.6 2.0 2.4 1.5\\ 22.7 1.8 2.2 1.3\\ 22.8 2.1 2.5 1.6\\
22.9 1.9 2.3 1.4\\ 23.0 2.2 1.7 2.5\\ 23.1 2.0 2.4 1.3\\ 23.2 1.8 2.1 1.5\\ 23.3 2.1 2.5 1.6\\ 23.4 1.9 2.3 1.2\\
23.5 2.2 1.7 2.6\\ 23.6 2.0 2.4 1.4\\ 23.7 1.8 2.1 1.3\\ 23.8 2.1 2.5 1.6\\ 23.9 1.9 1.3 2.2\\
}\tabDband
\pgfplotstableread[row sep=\\]{x y\\
0.2 1.9\\ 0.45 1.3\\ 0.5 0.9\\ 0.55 1.1\\ 0.6 1.4\\ 0.7 1.2\\ 0.8 1.5\\ 0.9 1.0\\ 1.0 1.7\\ 1.05 1.3\\
1.2 2.3\\ 1.3 2.3\\ 1.4 1.6\\ 1.5 1.9\\ 1.6 1.3\\ 1.7 1.7\\ 1.8 1.2\\ 1.9 1.5\\ 1.95 1.8\\ 2.0 1.1\\
2.1 0.8\\ 2.7 1.0\\ 2.9 1.2\\ 3.0 1.7\\ 3.05 1.0\\ 3.2 0.9\\ 3.3 1.1\\ 3.4 1.3\\ 3.5 0.9\\ 3.55 2.6\\
3.6 1.5\\ 3.7 1.2\\ 3.75 1.4\\ 3.8 1.0\\ 3.9 1.3\\ 3.95 0.8\\ 4.0 1.6\\ 4.1 2.3\\
4.15 1.1\\ 4.2 1.5\\ 4.2 0.9\\ 4.25 1.8\\ 4.3 1.2\\ 4.3 2.0\\ 4.35 1.4\\ 4.4 1.0\\ 4.4 1.7\\ 4.45 2.2\\
4.5 1.3\\ 4.5 1.9\\ 4.55 1.1\\ 4.6 1.6\\ 4.6 2.4\\ 4.65 1.3\\ 4.7 2.0\\ 4.7 0.9\\ 4.75 1.5\\ 4.8 2.3\\
4.8 1.2\\ 4.85 1.8\\ 4.9 2.6\\ 4.9 1.0\\ 4.95 1.4\\ 5.0 2.1\\ 5.0 1.6\\ 4.55 1.9\\ 4.75 2.5\\ 4.4 2.1\\
4.65 0.8\\ 4.85 1.0\\ 4.95 0.9\\
5.3 4.0\\ 5.5 3.7\\ 5.7 4.1\\ 5.9 3.9\\ 6.2 3.6\\ 6.4 3.4\\ 5.4 1.1\\ 5.6 1.0\\ 6.0 1.1\\ 6.6 0.9\\
6.7 0.8\\ 7.3 0.8\\ 7.3 0.7\\ 6.45 2.6\\ 6.55 2.9\\ 6.65 2.2\\ 6.75 3.0\\ 6.85 2.6\\ 6.95 3.2\\
7.0 5.7\\ 7.3 5.6\\ 7.5 5.5\\ 7.7 5.8\\ 8.0 5.9\\ 8.2 5.7\\ 8.4 5.8\\ 8.5 5.6\\ 7.2 2.6\\ 7.6 2.7\\
7.9 2.9\\ 8.3 2.8\\ 7.5 2.2\\ 8.1 2.5\\ 6.9 2.2\\ 8.0 1.5\\ 8.2 1.0\\ 8.5 1.1\\ 7.05 3.8\\ 7.25 4.4\\
7.45 3.9\\ 7.65 4.1\\ 7.85 4.3\\ 8.05 4.0\\ 8.25 4.2\\ 8.45 3.8\\
8.65 3.2\\ 8.95 3.3\\ 9.25 3.1\\ 9.55 3.2\\ 9.85 3.3\\ 10.15 3.1\\ 10.45 3.3\\ 10.75 3.2\\ 11.05 3.1\\ 11.35 3.3\\
8.75 3.4\\ 9.05 3.1\\ 9.35 3.3\\ 9.65 3.0\\ 9.95 3.2\\ 10.25 3.4\\ 10.55 3.1\\ 10.85 3.3\\ 11.15 3.2\\ 11.45 3.4\\
9.0 4.5\\ 9.4 4.7\\ 9.8 4.3\\ 10.2 4.6\\ 10.6 4.4\\ 11.0 4.8\\ 11.3 5.1\\ 11.4 4.6\\ 9.6 4.9\\
8.8 1.9\\ 9.2 1.3\\ 9.3 1.5\\ 9.5 1.9\\ 9.8 1.7\\ 10.2 1.3\\ 10.4 1.9\\ 10.7 1.6\\ 11.0 1.3\\ 11.3 1.4\\ 11.5 1.4\\
11.8 5.4\\ 12.1 5.5\\ 12.4 5.6\\ 12.6 5.8\\ 13.0 5.9\\ 13.3 5.7\\ 13.6 5.5\\ 13.9 5.3\\ 12.2 2.4\\ 12.8 2.5\\
13.2 2.3\\ 13.8 2.2\\ 12.9 2.0\\ 13.4 2.1\\ 11.75 3.9\\ 12.05 4.1\\ 12.35 3.8\\ 12.65 4.2\\ 12.95 4.0\\ 13.25 4.1\\
13.55 3.9\\ 13.85 4.0\\ 14.15 3.7\\
14.5 5.0\\ 14.9 5.2\\ 15.2 5.5\\ 15.6 5.4\\ 15.9 5.6\\ 16.2 5.1\\ 14.4 2.1\\ 15.0 2.0\\ 15.5 1.9\\ 16.0 2.0\\
16.4 2.1\\ 14.8 2.2\\ 14.45 3.4\\ 14.75 3.3\\ 15.05 3.5\\ 15.35 3.4\\ 15.65 3.3\\ 15.95 3.5\\ 16.25 3.6\\
16.8 2.9\\ 17.0 2.8\\ 17.3 2.9\\ 17.6 3.0\\ 17.9 2.6\\ 17.2 5.5\\ 17.5 5.3\\ 16.9 5.4\\ 17.8 5.1\\ 16.65 4.0\\
16.95 3.9\\ 17.25 4.1\\ 17.55 4.0\\ 17.85 3.8\\
18.35 2.7\\ 18.65 2.6\\ 18.95 2.7\\ 19.25 2.6\\ 19.55 2.6\\ 19.85 2.7\\ 20.15 2.6\\ 20.45 2.5\\ 20.75 2.6\\ 19.15 2.8\\
19.45 2.5\\ 19.75 2.4\\ 18.5 3.8\\ 19.0 3.6\\ 19.5 3.7\\ 20.0 4.0\\ 20.4 3.6\\ 20.7 3.5\\
21.3 3.2\\ 21.9 3.1\\ 22.3 3.0\\ 22.8 3.2\\ 23.2 3.0\\ 23.6 2.9\\ 23.9 3.0\\ 22.0 3.3\\
0.44 6.25\\ 4.14 9.8\\ 3.89 6.85\\ 4.1 6.6\\ 4.73 7.9\\ 5.65 6.85\\ 5.3 5.4\\ 5.5 5.3\\ 6.24 5.0\\ 6.99 9.4\\
7.12 11.6\\ 7.32 9.8\\ 7.32 8.4\\ 7.96 9.4\\ 7.71 7.8\\ 8.56 9.5\\ 8.73 9.1\\ 8.2 7.9\\ 8.73 7.5\\ 8.0 6.5\\
8.4 6.6\\ 8.5 6.5\\ 9.25 10.0\\ 9.4 9.2\\ 9.6 9.2\\ 9.1 8.2\\ 9.81 12.0\\ 10.0 8.4\\ 10.83 10.9\\ 10.9 10.0\\
11.2 9.4\\ 10.5 5.8\\ 10.4 5.9\\ 11.2 6.85\\ 10.3 4.8\\
13.91 11.7\\ 14.65 11.3\\ 15.5 11.5\\ 15.7 11.5\\ 18.2 11.9\\ 16.59 10.5\\ 16.73 10.7\\ 18.08 10.1\\ 11.96 10.5\\ 11.96 8.7\\
12.3 8.7\\ 11.7 8.3\\ 13.58 8.1\\ 14.5 9.2\\ 14.8 8.4\\ 15.85 9.2\\ 15.2 7.6\\ 13.9 7.6\\ 16.1 7.8\\ 17.14 9.15\\
17.0 7.5\\ 17.3 7.8\\ 18.0 8.6\\ 18.2 8.3\\ 18.8 7.7\\ 19.0 8.0\\ 19.3 8.8\\ 20.7 8.5\\ 20.8 7.8\\ 21.3 8.9\\
21.0 7.0\\ 21.3 6.5\\ 21.4 5.9\\ 23.51 7.0\\ 23.9 5.4\\ 23.3 5.4\\ 23.3 4.9\\ 23.9 4.5\\ 22.3 5.0\\ 19.74 5.75\\
20.1 5.5\\ 20.5 5.0\\ 20.7 5.2\\ 18.8 6.0\\ 18.1 6.3\\ 17.8 5.6\\ 18.3 5.7\\ 16.95 6.3\\ 17.3 5.9\\ 16.3 6.6\\
16.0 6.3\\ 13.9 6.7\\ 13.2 6.5\\ 14.7 6.4\\ 15.3 5.5\\ 15.7 6.3\\ 12.0 6.0\\ 11.7 6.3\\ 12.7 7.3\\ 12.5 7.2\\
12.9 7.4\\ 14.4 7.4\\
12.33 1.6\\ 12.9 1.3\\ 13.2 1.3\\ 13.5 1.8\\ 13.8 1.4\\ 14.0 1.3\\ 14.5 1.6\\ 15.1 1.6\\ 15.4 1.5\\ 15.5 1.1\\
16.4 1.0\\ 16.6 1.2\\ 17.1 1.2\\ 17.5 1.6\\ 18.2 1.0\\ 18.8 1.2\\ 19.5 1.5\\ 20.2 1.1\\ 20.6 1.1\\ 21.2 1.2\\
21.7 1.0\\ 22.6 1.3\\ 22.9 1.3\\ 23.4 1.2\\ 23.6 1.2\\ 11.6 1.6\\ 11.8 1.7\\ 11.3 1.4\\ 11.5 1.4\\ 11.0 1.3\\ 10.7 1.6\\
}\tabDsc

\pgfplotsset{
  panel/.style={
    scale only axis, width=272pt, height=132pt,
    xmin=0, xmax=24, ymin=0, ymax=12,
    xtick={0,4,8,12,16,20,24}, ytick={0,4,8,12},
    grid=major, major grid style={black, dotted, line width=0.5pt},
    tick align=inside, major tick length=2.5pt,
    axis line style={black, line width=0.6pt},
    every tick/.style={black, line width=0.5pt},
    tick label style={font=\fontsize{10.3}{12}\selectfont},
    xticklabel style={yshift=-1.5pt},
    label style={font=\fontsize{10.3}{12.5}\selectfont},
    title style={font=\fontsize{10.3}{12}\selectfont, yshift=-7pt},
    /pgf/number format/assume math mode=true,
    ylabel={Travel Time (min)},
    ylabel style={yshift=-4.5pt},
    xlabel style={align=center, yshift=3.5pt},
    clip=false,
  },
  pts/.style={only marks, mark=*, mark size=1.25pt, black, mark options={draw=black, fill=black, line width=0pt}},
}

\begin{document}
\begin{tikzpicture}
\useasboundingbox (0,0) rectangle (627.5pt,370pt);

\begin{axis}[panel, at={(32.5pt,218.5pt)}, anchor=south west,
  title={HWY 7, Bayview Ave. - Beaver Creek Rd., Toronto (1.9 km)}, xlabel={(a)}]
\addplot[pts] table[x=t,y=a]{\tabAband};
\addplot[pts] table[x=t,y=b]{\tabAband};
\addplot[pts] table[x=t,y=c]{\tabAband};
\addplot[pts] table[x=x,y=y]{\tabAsc};
\end{axis}

\begin{axis}[panel, at={(345.5pt,218.5pt)}, anchor=south west,
  title={HWY 7, Beaver Creek Rd. - Bayview Ave., Toronto (1.9 km)}, xlabel={(b)}]
\addplot[pts] table[x=t,y=a]{\tabBband};
\addplot[pts] table[x=t,y=b]{\tabBband};
\addplot[pts] table[x=t,y=c]{\tabBband};
\addplot[pts] table[x=x,y=y]{\tabBsc};
\end{axis}

\begin{axis}[panel, at={(32.5pt,39pt)}, anchor=south west,
  title={HWY 7, Beaver Creek Rd. - HWY 404, Toronto (1.2 km)},
  xlabel={Time of Day (hr)\\[-0.5pt](c)}]
\addplot[pts] table[x=t,y=a]{\tabCband};
\addplot[pts] table[x=t,y=b]{\tabCband};
\addplot[pts] table[x=t,y=c]{\tabCband};
\addplot[pts] table[x=t,y=a]{\tabCtwo};
\addplot[pts] table[x=t,y=b]{\tabCtwo};
\addplot[pts] table[x=t,y=c]{\tabCtwo};
\addplot[pts] table[x=t,y=d]{\tabCtwo};
\addplot[pts] table[x=x,y=y]{\tabCsc};
\end{axis}

\begin{axis}[panel, at={(345pt,39pt)}, anchor=south west,
  title={HWY 7, HWY 404 - Beaver Creek Rd., Toronto (1.2 km)},
  xlabel={Time of Day (hr)\\[-0.5pt](d)}]
\addplot[pts] table[x=t,y=a]{\tabDband};
\addplot[pts] table[x=t,y=b]{\tabDband};
\addplot[pts] table[x=t,y=c]{\tabDband};
\addplot[pts] table[x=x,y=y]{\tabDsc};
\end{axis}
\end{tikzpicture}
\end{document}
